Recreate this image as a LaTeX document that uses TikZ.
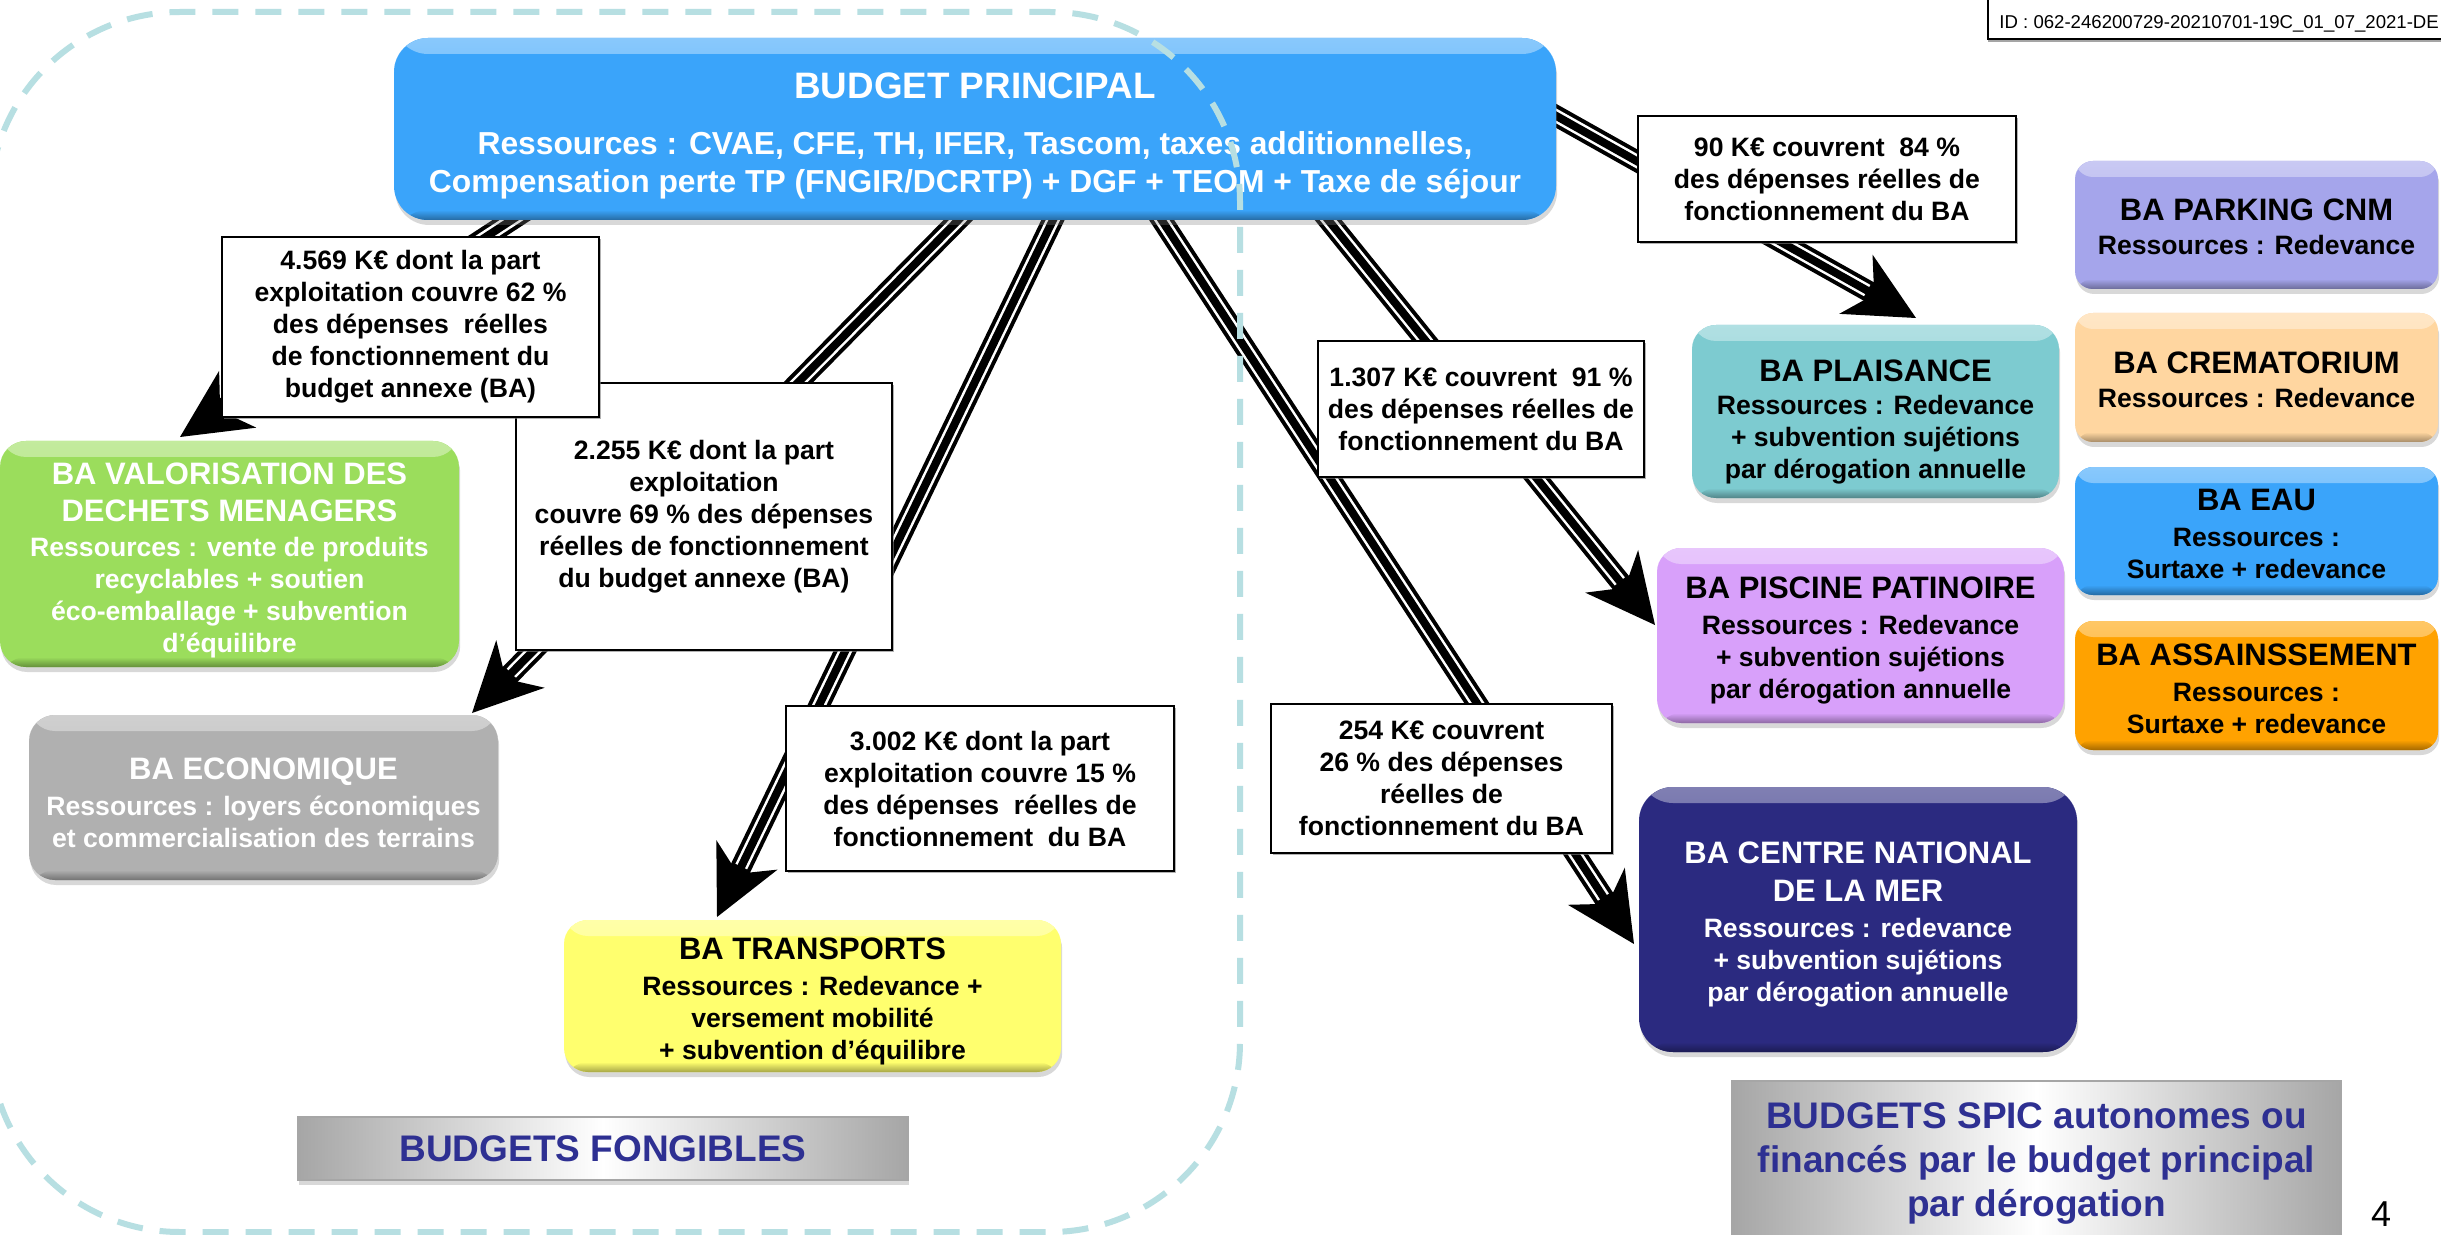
\documentclass[tikz,border=0pt]{standalone}
\usepackage{fontspec}
\setmainfont{Liberation Sans}
\usetikzlibrary{arrows.meta,shadows,calc}
\pgfdeclarelayer{bg}
\pgfdeclarelayer{arrowlayer}
\pgfsetlayers{bg,arrowlayer,main}

\definecolor{bpblue}{RGB}{58,164,250}
\definecolor{valgreen}{RGB}{155,221,92}
\definecolor{ecogray}{RGB}{176,176,176}
\definecolor{trayellow}{RGB}{255,255,110}
\definecolor{plaiteal}{RGB}{125,203,208}
\definecolor{parklav}{RGB}{165,165,235}
\definecolor{crempeach}{RGB}{255,214,160}
\definecolor{assorange}{RGB}{255,162,0}
\definecolor{piscpurple}{RGB}{216,160,250}
\definecolor{cnmnavy}{RGB}{43,42,128}
\definecolor{dashteal}{RGB}{183,223,226}
\definecolor{navytext}{RGB}{46,48,146}

\newcommand\fBPt{\fontsize{18.4pt}{22pt}\selectfont\bfseries}
\newcommand\fBPb{\fontsize{15.9pt}{19pt}\selectfont\bfseries}
\newcommand\fLbl{\fontsize{13.3pt}{16pt}\selectfont\bfseries}
\newcommand\fTit{\fontsize{15.5pt}{19pt}\selectfont\bfseries}
\newcommand\fBig{\fontsize{18.5pt}{22pt}\selectfont\bfseries}
\newcommand\fIDt{\fontsize{9.3pt}{11pt}\selectfont}
\newcommand\fPage{\fontsize{18pt}{20pt}\selectfont}

\tikzset{
  cbox/.style={rounded corners=9pt, inner sep=0pt, outer sep=0pt, fill=#1,
    drop shadow={shadow xshift=0.6pt, shadow yshift=-2.5pt, opacity=0.3},
    path picture={
      \shade[top color=#1!60!white, bottom color=#1]
        (path picture bounding box.north west) rectangle
        ([yshift=-8pt]path picture bounding box.north east);
      \shade[top color=#1, bottom color=#1!65!black]
        ([yshift=5pt]path picture bounding box.south west) rectangle
        (path picture bounding box.south east);
    }},
  ctext/.style={align=center, font=\fLbl, inner sep=0pt},
  lbox/.style={draw=black, line width=1.3pt, fill=white, inner sep=0pt, outer sep=0pt,
    align=center, font=\fLbl,
    drop shadow={shadow xshift=0.8pt, shadow yshift=-0.8pt, opacity=0.6}},
  gbox/.style={draw=gray!70, line width=0.8pt, inner sep=0pt, outer sep=0pt,
    align=center, font=\fBig, text=navytext,
    left color=gray!70, right color=gray!70, middle color=white,
    drop shadow={shadow xshift=0.6pt, shadow yshift=-2.5pt, opacity=0.3}},
  tripouter/.style={line width=10.5pt, black,
    -{Stealth[length=34.5pt, width=34pt, inset=10.5pt, line width=0pt]}},
  tripgap/.style={line width=6.5pt, white, shorten >=28pt},
  tripcore/.style={line width=4pt, black, shorten >=22pt},
  dashframe/.style={draw=dashteal, line width=3pt, dash pattern=on 13pt off 8.5pt,
    rounded corners=95pt},
}

\newcommand\triarrow[2]{%
  \draw[tripouter] (#1) -- (#2);
  \draw[tripgap] (#1) -- (#2);
  \draw[tripcore] (#1) -- (#2);
}

\begin{document}
\begin{tikzpicture}[x=0.5pt, y=-0.5pt]
\useasboundingbox (0,0) rectangle (2441,1235);
\begin{pgfonlayer}{bg}
  \fill[white] (0,0) rectangle (2441,1235);
\end{pgfonlayer}
\clip (0,0) rectangle (2441,1235);

% ---------- main budget
\node[cbox=bpblue, rounded corners=17pt, minimum width=581pt, minimum height=91pt] (bp) at (975,129) {};
\node[ctext, text=white, font=\fBPb] (bptxt) at ($(bp.center)+(0,7)$)
 {{\fBPt BUDGET PRINCIPAL}\\[9pt]
  Ressources : CVAE, CFE, TH, IFER, Tascom, taxes additionnelles,\\
  Compensation perte TP (FNGIR/DCRTP) + DGF + TEOM + Taxe de séjour};

% ---------- fongible budgets
\node[cbox=valgreen, rounded corners=13pt, minimum width=229.5pt, minimum height=113pt] (valo) at (229.5,554) {};
\node[ctext, text=white] (valotxt) at ($(valo.center)+(0,6)$)
 {{\fTit BA VALORISATION DES}\\[2.5pt]
  {\fTit DECHETS MENAGERS}\\[1.5pt]
  Ressources : vente de produits\\
  recyclables + soutien\\
  éco-emballage + subvention\\
  d’équilibre};

\node[cbox=ecogray, rounded corners=13pt, minimum width=234.5pt, minimum height=82.5pt] (eco) at (263.5,797.5) {};
\node[ctext, text=white] (ecotxt) at ($(eco.center)+(0,5)$)
 {{\fTit BA ECONOMIQUE}\\[2pt]
  Ressources : loyers économiques\\
  et commercialisation des terrains};

\node[cbox=trayellow, rounded corners=12pt, minimum width=248.5pt, minimum height=76pt] (trans) at (812.5,996) {};
\node[ctext] (transtxt) at ($(trans.center)+(0,5)$)
 {{\fTit BA TRANSPORTS}\\[2pt]
  Ressources : Redevance +\\
  versement mobilité\\
  + subvention d’équilibre};

\node[gbox, minimum width=305pt, minimum height=31.5pt] (fong) at (603,1148.5)
 {BUDGETS FONGIBLES};

% ---------- SPIC budgets
\node[cbox=plaiteal, rounded corners=12pt, minimum width=183.5pt, minimum height=86.5pt] (plais) at (1875.5,411.5) {};
\node[ctext] (plaistxt) at ($(plais.center)+(0,10)$)
 {{\fTit BA PLAISANCE}\\[0.5pt]
  Ressources : Redevance\\
  + subvention sujétions\\
  par dérogation annuelle};

\node[cbox=piscpurple, rounded corners=12pt, minimum width=203.5pt, minimum height=87.5pt] (pisc) at (1860.5,635.5) {};
\node[ctext] (pisctxt) at ($(pisc.center)+(0,5)$)
 {{\fTit BA PISCINE PATINOIRE}\\[2pt]
  Ressources : Redevance\\
  + subvention sujétions\\
  par dérogation annuelle};

\node[cbox=cnmnavy, rounded corners=17pt, minimum width=219pt, minimum height=132.5pt] (cnm) at (1858,919.5) {};
\node[ctext, text=white] (cnmtxt) at ($(cnm.center)+(0,5)$)
 {{\fTit BA CENTRE NATIONAL}\\[3pt]
  {\fTit DE LA MER}\\[2pt]
  Ressources : redevance\\
  + subvention sujétions\\
  par dérogation annuelle};

\node[cbox=parklav, minimum width=181.5pt, minimum height=64pt] (park) at (2256.5,225) {};
\node[ctext] (parktxt) at ($(park.center)+(0,2)$)
 {{\fTit BA PARKING CNM}\\[1pt] Ressources : Redevance};

\node[cbox=crempeach, minimum width=181.5pt, minimum height=64.5pt] (crem) at (2256.5,377.5) {};
\node[ctext] (cremtxt) at ($(crem.center)+(0,2)$)
 {{\fTit BA CREMATORIUM}\\[1pt] Ressources : Redevance};

\node[cbox=bpblue, minimum width=181.5pt, minimum height=64pt] (eau) at (2256.5,531) {};
\node[ctext] (eautxt) at ($(eau.center)+(0,3)$)
 {{\fTit BA EAU}\\[2pt] Ressources :\\ Surtaxe + redevance};

\node[cbox=assorange, minimum width=181.5pt, minimum height=64.5pt] (ass) at (2256.5,685.5) {};
\node[ctext] (asstxt) at ($(ass.center)+(0,3)$)
 {{\fTit BA ASSAINSSEMENT}\\[2pt] Ressources :\\ Surtaxe + redevance};

\node[gbox, minimum width=304.5pt, minimum height=82pt] (spic) at (2036.5,1163)
 {BUDGETS SPIC autonomes ou\\
  financés par le budget principal\\
  par dérogation};

% ---------- connectors (triple lines), drawn behind the boxes
\begin{pgfonlayer}{arrowlayer}
  \coordinate (s1) at ($(bp.south west)+(159,-27)$);
  \coordinate (e1) at ($(valo.north west)+(180,-4)$);
  \coordinate (s2) at ($(bp.south west)+(589,-25)$);
  \coordinate (e2) at ($(eco.north west)+(443,-2)$);
  \coordinate (s3) at ($(bp.south west)+(671,-25)$);
  \coordinate (e3) at ($(trans.north west)+(153,-3)$);
  \coordinate (s4) at ($(bp.south west)+(750,-27)$);
  \coordinate (e4) at ($(cnm.north west)+(-5,157)$);
  \coordinate (s5) at ($(bp.south west)+(914,-25)$);
  \coordinate (e5) at ($(pisc.north west)+(-2,77)$);
  \coordinate (s6) at ($(bp.south east)+(-21,-116)$);
  \coordinate (e6) at ($(plais.north west)+(224,-7)$);
  \triarrow{s1}{e1}
  \triarrow{s2}{e2}
  \triarrow{s3}{e3}
  \triarrow{s4}{e4}
  \triarrow{s5}{e5}
  \triarrow{s6}{e6}
\end{pgfonlayer}

% ---------- amount labels (on top of the connectors)
\node[lbox, minimum width=188pt, minimum height=133.5pt] (l2) at (704,516.5)
 {2.255 K€ dont la part\\
  exploitation\\
  couvre 69 \% des dépenses\\
  réelles de fonctionnement\\
  du budget annexe (BA)};

\node[lbox, minimum width=188.5pt, minimum height=90pt] (l1) at (410.5,327)
 {4.569 K€ dont la part\\
  exploitation couvre 62 \%\\
  des dépenses\ \ réelles\\
  de fonctionnement du\\
  budget annexe (BA)};

\node[lbox, minimum width=194pt, minimum height=82.5pt] (l3) at (980,788.5)
 {3.002 K€ dont la part\\
  exploitation couvre 15 \%\\
  des dépenses\ \ réelles de\\
  fonctionnement\ \ du BA};

\node[lbox, minimum width=189pt, minimum height=63pt] (l4) at (1827,179)
 {90 K€ couvrent\ \ 84 \%\\
  des dépenses réelles de\\
  fonctionnement du BA};

\node[lbox, minimum width=163pt, minimum height=68pt] (l5) at (1481,409)
 {1.307 K€ couvrent\ \ 91 \%\\
  des dépenses réelles de\\
  fonctionnement du BA};

\node[lbox, minimum width=170.5pt, minimum height=74.5pt] (l6) at (1441.5,778.5)
 {254 K€ couvrent\\
  26 \% des dépenses\\
  réelles de\\
  fonctionnement du BA};

% ---------- dashed frame of the fongible budgets
\draw[dashframe] (-10,12) rectangle (1240,1232);

% ---------- id stamp and page number
\node[draw=black, fill=white, line width=1.2pt, inner sep=0pt, outer sep=0pt, anchor=south west,
      minimum width=240pt, minimum height=30pt,
      drop shadow={shadow xshift=0pt, shadow yshift=-1.5pt, opacity=0.7}] (idbox) at (1988,39) {};
\node[font=\fIDt, anchor=west, inner sep=0pt] (idtext) at (1999,24)
 {ID : 062-246200729-20210701-19C\_01\_07\_2021-DE};
\node[font=\fPage, inner sep=0pt] (pagenum) at (2381,1214) {4};
\end{tikzpicture}
\end{document}
